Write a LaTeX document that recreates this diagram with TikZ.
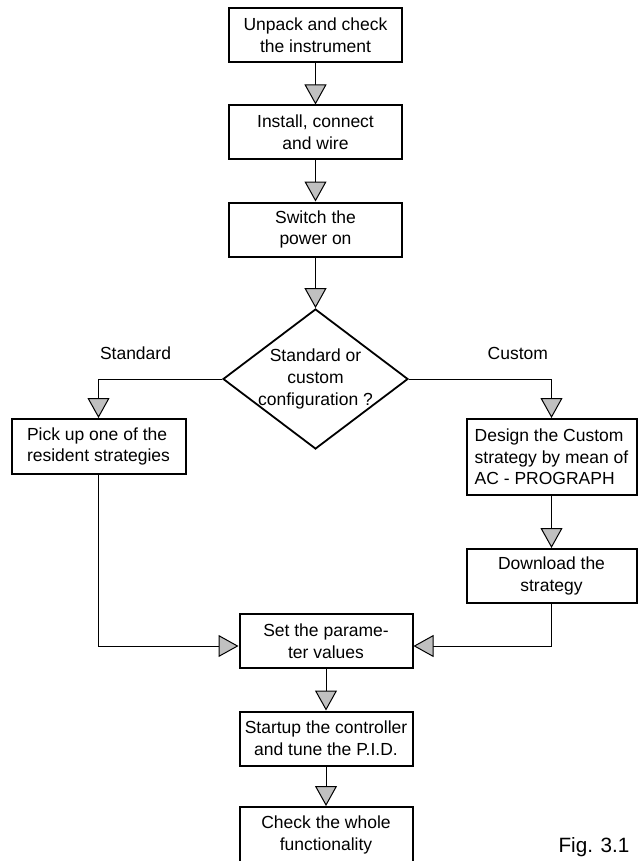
\documentclass[tikz,border=0pt]{standalone}
\usepackage{fontspec}
\setmainfont{Liberation Sans}
\usetikzlibrary{arrows.meta,positioning,shapes.geometric}
\definecolor{tipgray}{RGB}{192,192,192}
\tikzset{%
	process/.style  = {draw, rectangle, line width=2pt, minimum width=173pt, minimum height=54pt, inner sep=0pt, align=center},
	decision/.style = {draw, diamond, line width=1.8pt, minimum width=185pt, minimum height=140pt, aspect=1.32, inner sep=-4pt, align=center},
	branch/.style   = {inner sep=0pt}, % Branch name
	arrow/.style    = {line width=1pt, -{Triangle[length=20pt, width=22pt, fill=tipgray]}},
}

\begin{document}
\begin{tikzpicture}[x=1pt, y=1pt, on grid, node distance=97.5pt, font=\fontsize{17.5}{21.7}\selectfont]
	\useasboundingbox (0,0) rectangle (638,-861);
	\node [process] (unpack) at (315.5,-35) {Unpack and check\\the instrument};
	\node [process] (install) [below of=unpack] {Install, connect\\and wire};
	\node [process] (power) [below of=install, node distance=97pt] {Switch the\\power on};
	\node [decision] (choice) [below of=power, node distance=149.5pt] {Standard or\\custom\\configuration ?};
	\node [process, minimum width=174pt, minimum height=55pt, align=left] (pick) [below left=67.5pt and 217pt of choice] {Pick up one of the\\resident strategies};
	\node [process, minimum width=170pt, minimum height=76pt, align=left] (design) [below right=78pt and 236pt of choice] {Design the Custom\\strategy by mean of\\AC - PROGRAPH};
	\node [process, minimum width=170pt] (download) [below of=design, node distance=119pt] {Download the\\strategy};
	\node [process] (params) [below right=262pt and 10.5pt of choice] {Set the parame-\\ter values};
	\node [process] (startup) [below of=params] {Startup the controller\\and tune the P.I.D.};
	\node [process, minimum height=56pt] (check) [below of=startup, node distance=96.5pt] {Check the whole\\functionality};
	\node [anchor=base west, font=\fontsize{20.7}{24}\selectfont] (fig) at (555,-852) {Fig. 3.1};
	\draw [arrow] (unpack) -- (install);
	\draw [arrow] (install) -- (power);
	\draw [arrow] (power) -- (choice);
	\draw [arrow] (choice.west) -| node [branch, pos=0.5, anchor=south west, xshift=1pt, yshift=19pt] {Standard} (pick.north);
	\draw [arrow] (choice.east) -| node [branch, pos=0.5, anchor=south east, xshift=-3pt, yshift=19pt] {Custom} (design.north);
	\draw [arrow] (design) -- (download);
	\draw [arrow] (pick.south) |- ([yshift=-5pt]params.west);
	\draw [arrow] (download.south) |- ([yshift=-5pt]params.east);
	\draw [arrow] (params) -- (startup);
	\draw [arrow] (startup) -- (check);
\end{tikzpicture}
\end{document}
